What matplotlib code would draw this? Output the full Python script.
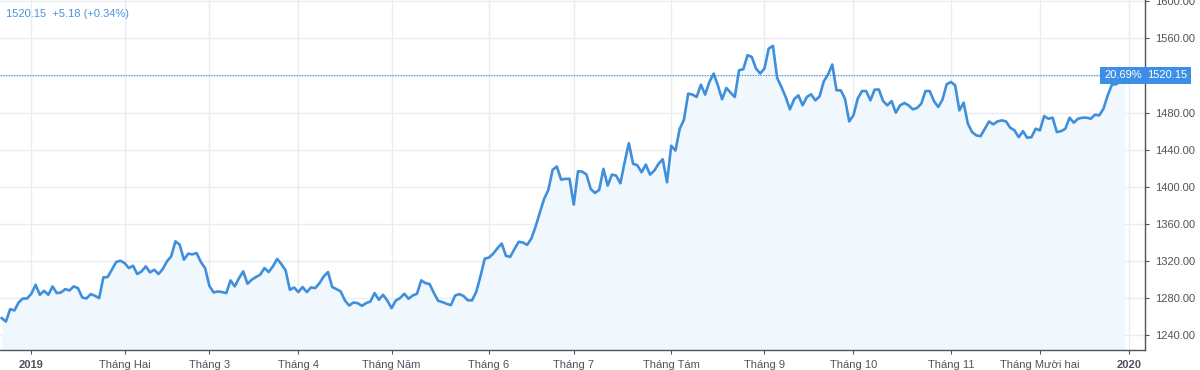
import numpy as np
import pandas as pd
import matplotlib
matplotlib.use('Agg')
import matplotlib.pyplot as plt

# daily close (20 Dec 2018 .. 31 Dec 2019, trading days)
close = [
    1258.6, 1255.0, 1268.3, 1266.9, 1275.5, 1279.8, 1279.8, 1284.9, 1294.6, 1283.8,
    1288.1, 1283.8, 1292.8, 1285.6, 1286.3, 1289.9, 1288.5, 1292.8, 1291.0, 1280.9,
    1279.8, 1284.5, 1282.7, 1280.2, 1302.5, 1302.9, 1310.8, 1319.1, 1320.5, 1318.0,
    1312.6, 1315.1, 1306.1, 1309.0, 1314.4, 1307.9, 1310.8, 1306.1, 1311.5, 1319.8,
    1325.2, 1341.4, 1337.8, 1321.6, 1328.1, 1327.4, 1328.8, 1319.1, 1312.6, 1293.5,
    1286.3, 1287.4, 1286.7, 1285.6, 1299.3,
    1292.8, 1301.8, 1309.0, 1295.7, 1300.0, 1302.9, 1305.4, 1312.6, 1308.3, 1314.4,
    1322.4, 1316.9, 1310.1, 1289.2, 1291.7, 1286.7, 1292.1, 1286.7, 1291.7, 1291.0,
    1296.4, 1303.6, 1308.3, 1292.1, 1289.9, 1287.4, 1277.6, 1272.2, 1275.5, 1274.8,
    1271.9, 1274.8, 1276.6, 1285.6, 1278.4, 1283.8, 1277.6, 1269.4, 1277.6, 1280.2,
    1284.9, 1279.5, 1283.0, 1284.9, 1299.3, 1296.4, 1295.3, 1285.6, 1277.3, 1275.9,
    1274.1, 1272.6, 1283.0, 1284.5,
    1282.5, 1277.8, 1277.8, 1287.2, 1304.1, 1322.8, 1323.9, 1328.2, 1334.0, 1339.0,
    1325.7, 1324.7, 1333.0, 1340.9, 1340.1, 1337.6, 1344.4, 1357.4, 1372.5, 1387.0,
    1396.8, 1418.4, 1422.0, 1407.9, 1408.7, 1408.7, 1380.9, 1416.9, 1416.5, 1413.3,
    1397.8, 1393.5, 1396.8, 1419.5, 1401.4, 1413.3, 1412.2, 1403.9, 1426.6, 1447.1,
    1424.9, 1423.4, 1415.8, 1424.1, 1413.3, 1417.6, 1424.9, 1429.8, 1405.0, 1444.3,
    1439.2, 1462.7, 1472.4, 1500.5, 1499.5,
    1496.9, 1510.2, 1499.5, 1513.1, 1522.1, 1509.5, 1494.4, 1506.6, 1501.6, 1496.9,
    1525.7, 1526.8, 1541.9, 1540.1, 1527.6, 1522.2, 1527.6, 1549.0, 1552.0, 1517.4,
    1507.7, 1496.9, 1483.6, 1494.4, 1498.7, 1487.9, 1496.9, 1499.8, 1493.3, 1497.6,
    1513.8, 1521.1, 1531.9, 1504.1, 1504.1, 1495.1, 1470.6, 1477.1, 1495.1, 1503.3,
    1503.3, 1493.3, 1504.9, 1504.9, 1492.5, 1487.9, 1492.5, 1480.0, 1487.9, 1490.4,
    1487.9, 1483.6, 1485.0, 1489.7,
    1503.3, 1503.3, 1492.5, 1486.1, 1494.0, 1510.6, 1513.1, 1509.5, 1482.5, 1490.8,
    1468.1, 1459.1, 1455.5, 1454.7, 1462.7, 1470.6, 1467.4, 1470.6, 1471.7, 1470.6,
    1463.8, 1460.9, 1453.6, 1460.1, 1453.0, 1453.6, 1462.7, 1460.9, 1476.3, 1473.5,
    1474.6, 1459.1, 1460.1, 1462.7, 1474.6, 1469.2, 1473.5, 1474.6, 1474.6, 1473.5,
    1477.8, 1477.1, 1484.3, 1498.7, 1510.3, 1510.6, 1514.2, 1520.15,
]
holidays = ['2018-12-25', '2019-01-01', '2019-12-25']
month_labels = ['2019', 'Tháng Hai', 'Tháng 3', 'Tháng 4', 'Tháng Năm', 'Tháng 6',
                'Tháng 7', 'Tháng Tám', 'Tháng 9', 'Tháng 10', 'Tháng 11',
                'Tháng Mười hai', '2020']
price_ticks = [1240, 1280, 1320, 1360, 1400, 1440, 1480, 1520, 1560, 1600]
last_price = 1520.15
change = 5.18
change_pct = 0.34
ytd_pct = 20.69

LINE = '#3f8fdc'
BADGE = '#3d8fe6'
TXT = '#50535e'
GRID = '#e9edf1'

plt.rcParams['font.family'] = ['Liberation Sans', 'DejaVu Sans']

dates = pd.bdate_range('2018-12-20', '2019-12-31')
dates = dates[~dates.isin(pd.to_datetime(holidays))]
x = np.arange(len(dates))
assert len(x) == len(close)
month_pos = [int(np.argmax(dates >= pd.Timestamp(2019, m, 1))) for m in range(1, 13)]
month_pos.append(len(dates))

fig = plt.figure(figsize=(12, 3.7), dpi=100)
ax = fig.add_axes([0, 20 / 370, 1145 / 1200, 350 / 370])
ax.set_xlim(-0.4, 269.8)
ax.set_ylim(1224.3, 1601.4)

ax.fill_between(x, close, 1200, color='#f0f7fd', lw=0)
ax.plot(x, close, color=LINE, lw=1.9, solid_joinstyle='round')
ax.axhline(last_price, color=LINE, lw=0.8, ls=(0, (1.2, 1.2)))

ax.yaxis.tick_right()
# the 1520 label sits under the price badge, so it is left blank
ax.set_yticks(price_ticks,
              ['' if abs(v - last_price) < 10 else '%.2f' % v for v in price_ticks])
ax.set_xticks(month_pos, month_labels)
for lbl in ax.get_xticklabels():
    if lbl.get_text() in ('2019', '2020'):
        lbl.set_fontweight('bold')

ax.grid(True, color=GRID, lw=1)
ax.set_axisbelow(True)
for s in ['top', 'left']:
    ax.spines[s].set_visible(False)
for s in ['right', 'bottom']:
    ax.spines[s].set_color(TXT)
    ax.spines[s].set_linewidth(1)
ax.tick_params(axis='both', colors=TXT, labelsize=8, length=3, width=0.8)
ax.tick_params(axis='y', pad=4)
ax.tick_params(axis='x', pad=4)

# price / percent badges on the right
ax.text(1.002, last_price, '%.2f' % last_price, transform=ax.get_yaxis_transform(),
        ha='left', va='center', color='white', fontsize=8,
        bbox=dict(boxstyle='square,pad=0.35', fc=BADGE, ec='none'), clip_on=False,
        zorder=5)
ax.text(0.997, last_price, '%.2f%%' % ytd_pct, transform=ax.get_yaxis_transform(),
        ha='right', va='center', color='white', fontsize=8,
        bbox=dict(boxstyle='square,pad=0.35', fc=BADGE, ec='none'), zorder=5)

fig.text(6 / 1200, 1 - 14 / 370, '%.2f  +%.2f (+%.2f%%)' % (last_price, change, change_pct),
         color='#4a94dc', fontsize=8, va='center', ha='left')

fig.savefig('out.png', dpi=100)
